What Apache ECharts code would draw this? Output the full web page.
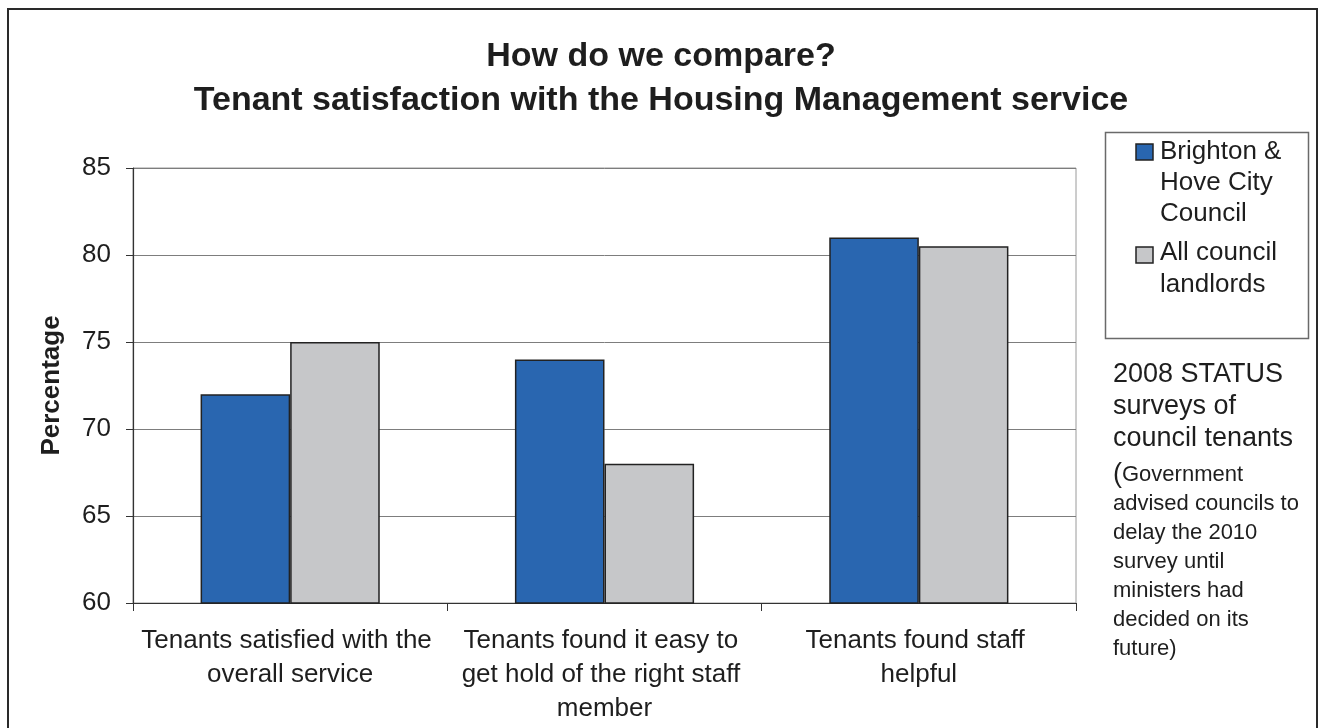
<!DOCTYPE html>
<html>
<head>
<meta charset="utf-8">
<script src="https://cdn.jsdelivr.net/npm/echarts@6/dist/echarts.min.js"></script>
<style>
html,body{margin:0;padding:0;background:#fff;}
#chart{width:1322px;height:728px;}
</style>
</head>
<body>
<div id="chart"></div>
<script>
const categories = [
  'Tenants satisfied with the overall service',
  'Tenants found it easy to get hold of the right staff member',
  'Tenants found staff helpful'
];
const seriesNames = ['Brighton & Hove City Council', 'All council landlords'];
const brightonValues = [72, 74, 81];
const allCouncilValues = [75, 68, 80.5];
const yTicks = { min: 60, max: 85, interval: 5 };
const titleLines = ['How do we compare?', 'Tenant satisfaction with the Housing Management service'];
const legendLines = [['Brighton &', 'Hove City', 'Council'], ['All council', 'landlords']];
const noteMain = ['2008 STATUS', 'surveys of', 'council tenants'];
const noteSmall = ['Government', 'advised councils to', 'delay the 2010', 'survey until', 'ministers had', 'decided on its', 'future)'];

const FONT = '"Liberation Sans", Arial, sans-serif';
const BLUE = '#2966b0';
const GREY = '#c6c7c9';
const TXT = '#1e1e1e';

const chart = echarts.init(document.getElementById('chart'));
chart.setOption({
  animation: false,
  backgroundColor: '#fff',
  textStyle: { fontFamily: FONT },
  title: {
    text: titleLines.join('\n'),
    left: 'center',
    top: 35,
    padding: 0,
    textStyle: { fontFamily: FONT, fontSize: 34, fontWeight: 'bold', color: TXT, lineHeight: 44 }
  },
  grid: {
    left: 133, right: 246, top: 168, bottom: 125,
    show: true, borderColor: '#9a9a9a', borderWidth: 1, backgroundColor: 'transparent'
  },
  xAxis: {
    type: 'category',
    data: categories,
    axisLine: { lineStyle: { color: '#333', width: 1.2 } },
    axisTick: { show: true, length: 8, lineStyle: { color: '#333' } },
    axisLabel: {
      interval: 0, margin: 21, fontSize: 26, lineHeight: 34, color: TXT,
      fontFamily: FONT, width: 302, overflow: 'break', align: 'center'
    },
    splitLine: { show: false }
  },
  yAxis: {
    type: 'value',
    min: yTicks.min, max: yTicks.max, interval: yTicks.interval,
    name: 'Percentage',
    nameLocation: 'middle',
    nameGap: 68,
    nameRotate: 90,
    nameTextStyle: { fontFamily: FONT, fontSize: 26, fontWeight: 'bold', color: TXT },
    axisLine: { show: true, lineStyle: { color: '#333', width: 1.2 } },
    axisTick: { show: true, length: 7, lineStyle: { color: '#333' } },
    axisLabel: { fontSize: 26, color: TXT, margin: 22, fontFamily: FONT },
    splitLine: { show: true, lineStyle: { color: '#7d7d7d', width: 1 } }
  },
  series: [
    {
      name: seriesNames[0], type: 'bar', data: brightonValues,
      barGap: '0%', barCategoryGap: '43%',
      itemStyle: { color: BLUE, borderColor: '#222', borderWidth: 1.5 }
    },
    {
      name: seriesNames[1], type: 'bar', data: allCouncilValues,
      barGap: '0%', barCategoryGap: '43%',
      itemStyle: { color: GREY, borderColor: '#222', borderWidth: 1.5 }
    }
  ],
  graphic: [
    { type: 'rect', silent: true, shape: { x: 8, y: 9, width: 1309, height: 740 },
      style: { fill: 'none', stroke: '#2a2a2a', lineWidth: 2 } },
    { type: 'rect', silent: true, shape: { x: 1105.5, y: 132.5, width: 203, height: 206 },
      style: { fill: '#fff', stroke: '#6a6a6a', lineWidth: 1.5 } },
    { type: 'rect', silent: true, shape: { x: 1136, y: 144, width: 17, height: 16 },
      style: { fill: BLUE, stroke: '#222', lineWidth: 1.5 } },
    { type: 'text', silent: true, x: 1160, y: 136,
      style: { text: legendLines[0].join('\n'), font: '26px ' + FONT, lineHeight: 31, fill: TXT, verticalAlign: 'top' } },
    { type: 'rect', silent: true, shape: { x: 1136, y: 247, width: 17, height: 16 },
      style: { fill: GREY, stroke: '#222', lineWidth: 1.5 } },
    { type: 'text', silent: true, x: 1160, y: 237,
      style: { text: legendLines[1].join('\n'), font: '26px ' + FONT, lineHeight: 32, fill: TXT, verticalAlign: 'top' } },
    { type: 'text', silent: true, x: 1113, y: 359,
      style: { text: noteMain.join('\n'), font: '27px ' + FONT, lineHeight: 32, fill: TXT, verticalAlign: 'top' } },
    { type: 'text', silent: true, x: 1113, y: 460,
      style: {
        text: '{p|(}' + noteSmall.join('\n'),
        fontFamily: FONT, fontSize: 22, lineHeight: 29, fill: TXT, verticalAlign: 'top',
        rich: { p: { fontFamily: FONT, fontSize: 27, lineHeight: 29, fill: TXT } }
      } }
  ]
});
</script>
</body>
</html>
